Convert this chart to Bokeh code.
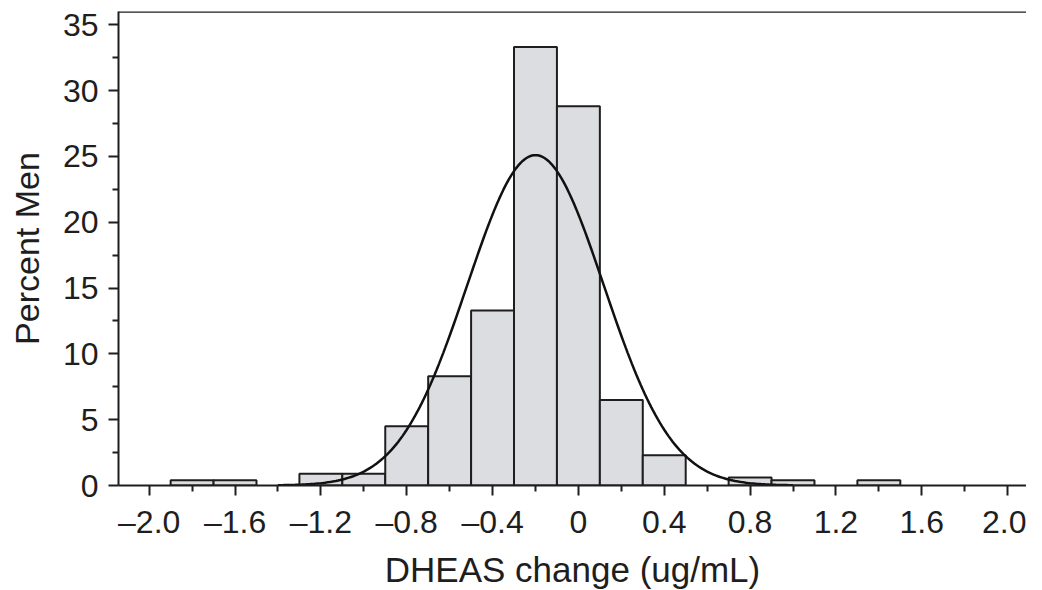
import math
from bokeh.plotting import figure
from bokeh.models import Range1d, FixedTicker, Span, ColumnDataSource
from bokeh.embed import file_html
from bokeh.resources import INLINE

# ---- data ----
bin_centers = [-1.8, -1.6, -1.2, -1.0, -0.8, -0.6, -0.4, -0.2, 0.0, 0.2, 0.4, 0.8, 1.0, 1.4]
percent_men = [0.4, 0.4, 0.9, 0.9, 4.5, 8.3, 13.3, 33.3, 28.8, 6.5, 2.3, 0.6, 0.4, 0.4]
bin_width = 0.2

# fitted normal curve parameters
fit_mean = -0.2
fit_sd = 0.318
fit_from = -1.4
fit_to = 1.0

x_ticks = [-2.0, -1.6, -1.2, -0.8, -0.4, 0, 0.4, 0.8, 1.2, 1.6, 2.0]
x_tick_labels = ["\u20132.0", "\u20131.6", "\u20131.2", "\u20130.8", "\u20130.4", "0",
                 "0.4", "0.8", "1.2", "1.6", "2.0"]
x_minor = [-2.2, -1.8, -1.4, -1.0, -0.6, -0.2, 0.2, 0.6, 1.0, 1.4, 1.8, 2.2]
y_ticks = [0, 5, 10, 15, 20, 25, 30, 35]
y_minor = [2.5, 7.5, 12.5, 17.5, 22.5, 27.5, 32.5]

FONT = "Liberation Sans"
INK = "#1e1e1e"

p = figure(output_backend="svg", toolbar_location=None,
           frame_width=908, frame_height=474,
           min_border_left=118, min_border_top=11, min_border_right=0, min_border_bottom=97,
           x_range=Range1d(-2.143, 2.088), y_range=Range1d(0, 36))
p.background_fill_color = "white"
p.border_fill_color = "white"
p.outline_line_color = None
p.xgrid.visible = False
p.ygrid.visible = False

src = ColumnDataSource(dict(x=bin_centers, top=percent_men))
p.vbar(x="x", top="top", bottom=0, width=bin_width, source=src,
       fill_color="#dcdde0", line_color=INK, line_width=2)

n = 241
cx = [fit_from + (fit_to - fit_from) * i / (n - 1) for i in range(n)]
cy = [100 * bin_width / (fit_sd * math.sqrt(2 * math.pi)) *
      math.exp(-0.5 * ((v - fit_mean) / fit_sd) ** 2) for v in cx]
p.line(cx, cy, line_color="#111111", line_width=2.5)

p.add_layout(Span(location=36, dimension="width", line_color=INK, line_width=2.5))

# x axis
xa = p.xaxis[0]
xa.ticker = FixedTicker(ticks=x_ticks, minor_ticks=x_minor)
xa.major_label_overrides = {t: l for t, l in zip(x_ticks, x_tick_labels)}
xa.axis_label = "DHEAS change (ug/mL)"
# y axis
ya = p.yaxis[0]
ya.ticker = FixedTicker(ticks=y_ticks, minor_ticks=y_minor)
ya.axis_label = "Percent Men"

for ax in (xa, ya):
    ax.axis_line_color = INK
    ax.axis_line_width = 2
    ax.major_tick_line_color = INK
    ax.major_tick_line_width = 2
    ax.minor_tick_line_color = INK
    ax.minor_tick_line_width = 2
    ax.major_tick_in = 0
    ax.minor_tick_in = 0
    ax.major_tick_out = 10
    ax.minor_tick_out = 6
    ax.major_label_text_font = FONT
    ax.major_label_text_font_size = "32px"
    ax.major_label_text_color = INK
    ax.axis_label_text_font = FONT
    ax.axis_label_text_font_size = "34px"
    ax.axis_label_text_font_style = "normal"
    ax.axis_label_text_color = INK

xa.axis_label_text_font_size = "35px"
xa.major_label_standoff = 8
xa.axis_label_standoff = 7
ya.major_label_standoff = 10
ya.axis_label_standoff = 14

open("out.html", "w").write(file_html(p, INLINE))
